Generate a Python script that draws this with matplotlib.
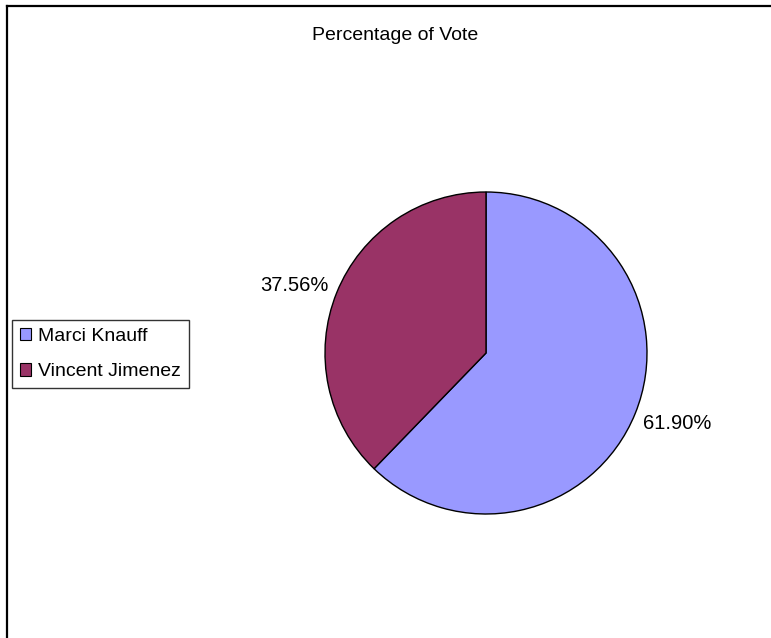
import matplotlib
matplotlib.use("Agg")
import matplotlib.pyplot as plt
from matplotlib.patches import Patch

candidates = ["Marci Knauff", "Vincent Jimenez"]
vote_pct = [61.90, 37.56]
pct_labels = ["61.90%", "37.56%"]
colors = ["#9999FF", "#993366"]

plt.rcParams['font.family'] = ['Liberation Sans', 'DejaVu Sans']

W, H = 771, 638
fig = plt.figure(figsize=(W / 100, H / 100), dpi=100)
fig.patch.set_facecolor("white")

# outer frame (top and left visible)
fig.add_artist(plt.Line2D([7 / W, 7 / W], [0, 1 - 6 / H], transform=fig.transFigure, color="black", lw=1.6))
fig.add_artist(plt.Line2D([7 / W, 1], [1 - 6 / H, 1 - 6 / H], transform=fig.transFigure, color="black", lw=1.6))

cx, cy, r = 486, 353, 161
ax = fig.add_axes([(cx - r) / W, (H - cy - r) / H, 2 * r / W, 2 * r / H])
wedges, _ = ax.pie(vote_pct, colors=colors, startangle=90, counterclock=False,
                   wedgeprops=dict(edgecolor="black", linewidth=1.0), radius=1.0)
ax.set_xlim(-1, 1)
ax.set_ylim(-1, 1)
ax.set_aspect("equal")
ax.axis("off")

# percentage labels
label_pos = [(1.19, -0.435), (-1.19, 0.42)]
for (lx, ly), txt in zip(label_pos, pct_labels):
    ax.text(lx, ly, txt, ha="center", va="center", fontsize=14.5, color="black")

fig.text(395 / W, 1 - 35 / H, "Percentage of Vote", ha="center", va="center", fontsize=14)

handles = [Patch(facecolor=c, edgecolor="black", linewidth=0.8) for c in colors]
leg = fig.legend(handles, candidates, loc="center left", bbox_to_anchor=(12 / W, 1 - 354 / H),
                 frameon=True, fancybox=False, edgecolor="black", fontsize=14,
                 handlelength=0.6, handleheight=0.6, handletextpad=0.35,
                 borderpad=0.4, labelspacing=0.95, borderaxespad=0)
leg.get_frame().set_linewidth(1.0)

fig.savefig("out.png", dpi=100, facecolor="white")
